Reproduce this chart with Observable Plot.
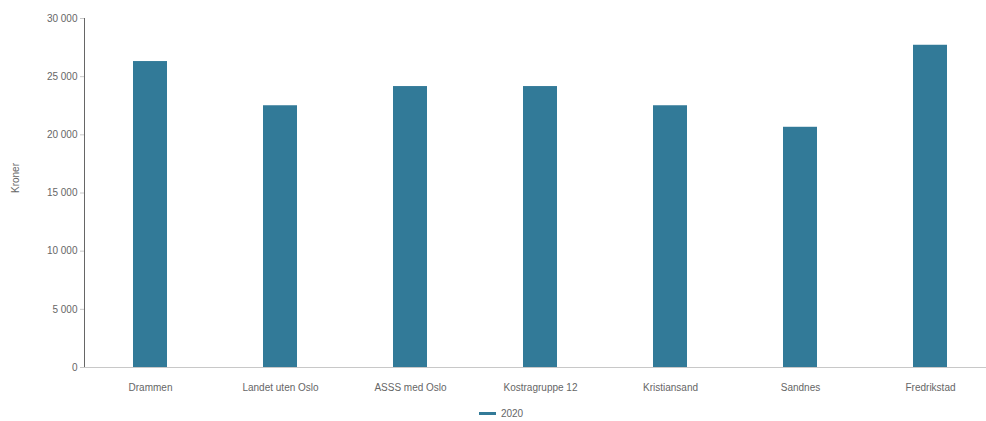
<!DOCTYPE html>
<html>
<head>
<meta charset="utf-8">
<script src="https://cdn.jsdelivr.net/npm/d3@7"></script>
<script src="https://cdn.jsdelivr.net/npm/@observablehq/plot@0.6"></script>
<style>
  html, body { margin: 0; padding: 0; background: #fff; overflow: hidden; }
  body { width: 986px; height: 421px; font-family: "Liberation Sans", Arial, sans-serif; }
  #legend { position: absolute; left: 0; top: 405px; width: 986px; height: 16px; display: flex; justify-content: center; align-items: center; font-size: 10px; color: #666; padding-left: 16px; box-sizing: border-box; }
  #legend .sw { display: inline-block; width: 17px; height: 3px; background: #327a98; margin-right: 5px; }
</style>
</head>
<body>
<div id="chart"></div>
<div id="legend"><span class="sw"></span><span id="legendText"></span></div>
<script>
const categories = ["Drammen", "Landet uten Oslo", "ASSS med Oslo", "Kostragruppe 12", "Kristiansand", "Sandnes", "Fredrikstad"];
const values2020 = [26300, 22500, 24150, 24150, 22500, 20650, 27700];
const seriesName = "2020";
const yTicks = [0, 5000, 10000, 15000, 20000, 25000, 30000];
const yLabel = "Kroner";

const data = categories.map((c, i) => ({category: c, value: values2020[i]}));
const fmt = d => d3.format(",")(d).replace(/,/g, " ");

const chart = Plot.plot({
  width: 986,
  height: 404,
  marginTop: 18,
  marginBottom: 37,
  marginLeft: 84,
  marginRight: 0,
  style: {fontFamily: "'Liberation Sans', Arial, sans-serif", fontSize: "10px", color: "#666", background: "#fff"},
  x: {domain: categories, range: [84.5, 996], paddingInner: 0.74, paddingOuter: 0.37, label: null, tickSize: 0, tickPadding: 16},
  y: {domain: [0, 30000], ticks: yTicks, tickFormat: fmt, label: null, tickSize: 4, tickPadding: 3, line: true},
  marks: [
    Plot.barY(data, {x: "category", y: "value", fill: "#327a98"}),
    Plot.ruleY([0], {stroke: "#c8c8c8"}),
    Plot.text([yLabel], {frameAnchor: "left", dx: -69, rotate: -90, fontSize: 10, fill: "#666"})
  ]
});
chart.querySelectorAll("[aria-label='y-axis tick'] path, [aria-label='y-axis line'] line, [aria-label='y-axis'] line").forEach(p => p.setAttribute("stroke", "#c8c8c8"));
document.getElementById("chart").appendChild(chart);
document.getElementById("legendText").textContent = seriesName;
</script>
</body>
</html>
